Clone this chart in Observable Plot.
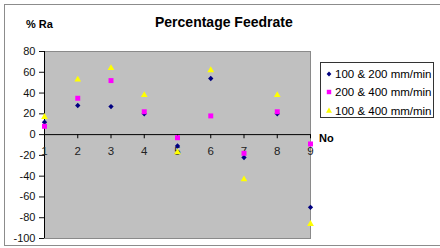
<!DOCTYPE html>
<html>
<head>
<meta charset="utf-8">
<script src="https://cdn.jsdelivr.net/npm/d3@7"></script>
<script src="https://cdn.jsdelivr.net/npm/@observablehq/plot@0.6"></script>
<style>
  html, body { margin: 0; padding: 0; background: #fff; overflow: hidden; }
  #wrap { position: relative; width: 440px; height: 248px; font-family: "Liberation Sans", Arial, sans-serif; }
  #wrap svg.plot { position: absolute; left: 0; top: 0; }
  .lbl { position: absolute; white-space: nowrap; line-height: 1; color: #000; }
  #border { position: absolute; left: 4px; top: 4px; width: 460px; height: 242px; border: 1px solid #8c8c8c; box-sizing: border-box; }
  #legend { position: absolute; left: 320px; top: 62px; width: 114px; height: 56px; border: 1px solid #333; box-sizing: border-box; background: #fff; }
  .row { position: absolute; left: 0; display: flex; align-items: center; font-size: 11.5px; white-space: nowrap; }
  .row svg { width: 10px; height: 10px; margin-left: 3px; margin-right: 1px; }
</style>
</head>
<body>
<div id="wrap">
  <div id="border"></div>
</div>
<script>
const nos = [1, 2, 3, 4, 5, 6, 7, 8, 9];
const seriesNames = ["100 & 200 mm/min", "200 & 400 mm/min", "100 & 400 mm/min"];
const s100_200 = [12, 28, 27, 20, -11, 54, -22, 20, -70];
const s200_400 = [8, 35, 52, 22, -3, 18, -18, 22, -9];
const s100_400 = [17, 53, 64, 38, -17, 62, -43, 38, -86];
const yTicks = [80, 60, 40, 20, 0, -20, -40, -60, -80, -100];
const xTicks = [1, 2, 3, 4, 5, 6, 7, 8, 9];
const colors = ["#000080", "#ff00ff", "#ffff00"];
const symbols = ["diamond2", "square", "triangle"];
const radii = [2.4, 2.8, 2.5];

const seriesValues = [s100_200, s200_400, s100_400];
const data = seriesValues.map((vals, si) => nos.map((n, i) => ({no: n, v: vals[i], s: seriesNames[si]})));

const plot = Plot.plot({
  width: 440,
  height: 248,
  marginLeft: 44,
  marginRight: 130,
  marginTop: 51,
  marginBottom: 10,
  x: {domain: [1, 9], axis: null},
  y: {domain: [-100, 80], label: null},
  style: {fontFamily: "Liberation Sans, Arial, sans-serif", fontSize: "11px", background: "transparent", overflow: "visible"},
  marks: [
    Plot.frame({fill: "#c0c0c0", stroke: "#8a8a8a"}),
    Plot.axisY(yTicks, {tickSize: 5, tickPadding: 4, fontSize: 11, color: "#111", label: null, tickFormat: d => String(d)}),
    Plot.ruleX([1], {stroke: "#000"}),
    Plot.ruleY([0], {stroke: "#000"}),
    Plot.ruleX(xTicks, {x: d => d, y1: 0, y2: -4, stroke: "#000"}),
    Plot.text(xTicks, {x: d => d, y: 0, dy: 17, text: d => String(d), fontSize: 11.5, fill: "#222"}),
    ...data.map((d, si) => Plot.dot(d, {x: "no", y: "v", symbol: () => symbols[si], fill: colors[si], r: radii[si], stroke: "none"}))
  ]
});
plot.classList.add("plot");
const wrap = document.getElementById("wrap");
wrap.appendChild(plot);

function addLabel(text, left, top, size, bold) {
  const el = document.createElement("div");
  el.className = "lbl";
  el.textContent = text;
  el.style.left = left + "px";
  el.style.top = top + "px";
  el.style.fontSize = size + "px";
  el.style.fontWeight = bold ? "bold" : "normal";
  wrap.appendChild(el);
}
addLabel("Percentage Feedrate", 155, 15, 14, true);
addLabel("% Ra", 26, 19, 11, true);
addLabel("No", 319, 133, 11, true);

const legend = document.createElement("div");
legend.id = "legend";
const symMap = {diamond2: d3.symbolDiamond2, square: d3.symbolSquare, triangle: d3.symbolTriangle};
const rowCenters = [10.5, 29, 47.5];
seriesNames.forEach((name, i) => {
  const row = document.createElement("div");
  row.className = "row";
  row.style.top = (rowCenters[i] - 7) + "px";
  row.style.height = "14px";
  const ns = "http://www.w3.org/2000/svg";
  const svg = document.createElementNS(ns, "svg");
  svg.setAttribute("viewBox", "-5 -5 10 10");
  const p = document.createElementNS(ns, "path");
  p.setAttribute("d", d3.symbol(symMap[symbols[i]], Math.PI * radii[i] * radii[i] * 0.8)());
  p.setAttribute("fill", colors[i]);
  svg.appendChild(p);
  row.appendChild(svg);
  const t = document.createElement("span");
  t.textContent = name;
  row.appendChild(t);
  legend.appendChild(row);
});
wrap.appendChild(legend);
</script>
</body>
</html>
